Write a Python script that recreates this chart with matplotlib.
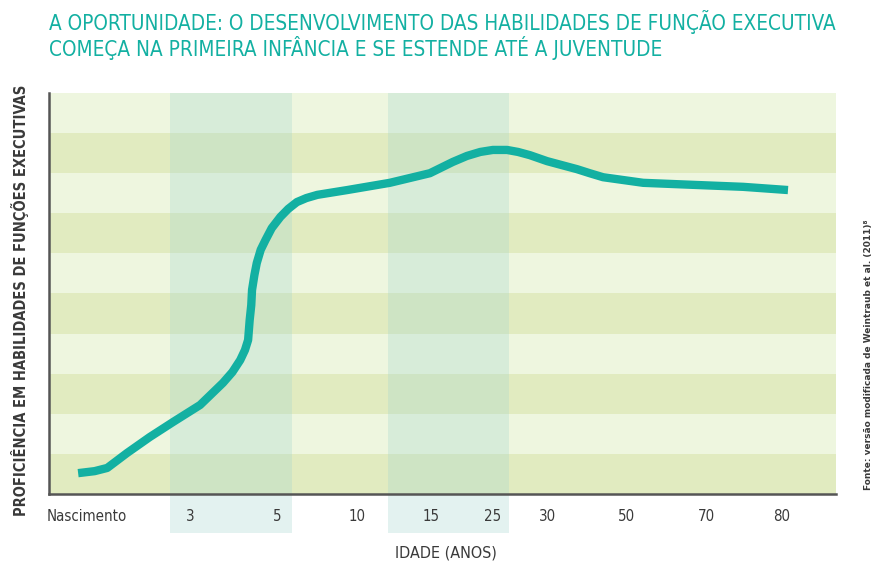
import matplotlib
matplotlib.use("Agg")
import matplotlib.pyplot as plt

# ---------------------------------------------------------------------
# DATA (x = position along the age axis, 0-100; y = proficiency, 0-100)
# ---------------------------------------------------------------------
tick_labels = ["Nascimento", "3", "5", "10", "15", "25", "30", "50", "70", "80"]
tick_pos = [4.8, 17.9, 29.0, 39.1, 48.5, 56.4, 63.4, 73.4, 83.6, 93.1]

curve_x = [3.7, 5.8, 7.4, 9.9, 12.8, 15.8, 19.2, 22.1, 23.3, 24.3, 24.9, 25.3,
           25.5, 25.7, 25.8, 26.1, 26.4, 26.9, 27.5, 28.3, 29.4, 30.4, 31.5,
           32.7, 34.1, 37.9, 43.3, 48.4, 51.3, 53.1, 54.8, 56.4, 58.2, 59.6,
           61.1, 63.3, 67.1, 68.7, 70.4, 75.5, 81.8, 88.2, 93.9]
curve_y = [5.2, 5.7, 6.5, 10.2, 14.2, 18.0, 22.2, 27.7, 30.4, 33.4, 35.9, 38.4,
           43.4, 47.1, 50.9, 54.6, 57.6, 60.9, 63.3, 66.3, 69.1, 71.1, 72.8,
           73.8, 74.6, 75.8, 77.6, 80.0, 82.8, 84.3, 85.3, 85.8, 85.8, 85.3,
           84.5, 83.0, 81.0, 80.0, 79.0, 77.6, 77.1, 76.6, 75.8]

# highlighted age windows (3-5 and 15-25)
bands = [(15.4, 30.9), (43.1, 58.5)]
n_stripes = 10

title_1 = "A OPORTUNIDADE: O DESENVOLVIMENTO DAS HABILIDADES DE FUNÇÃO EXECUTIVA"
title_2 = "COMEÇA NA PRIMEIRA INFÂNCIA E SE ESTENDE ATÉ A JUVENTUDE"
ylabel = "PROFICIÊNCIA EM HABILIDADES DE FUNÇÕES EXECUTIVAS"
xlabel = "IDADE (ANOS)"
source = "Fonte: versão modificada de Weintraub et al. (2011)⁸"

FONT = ["DejaVu Sans"]
TEAL = "#13b0a2"
DARK = "#3a3a3a"

# ---------------------------------------------------------------------
# PLOT
# ---------------------------------------------------------------------
fig = plt.figure(figsize=(8.76, 5.66), dpi=100)
ax = fig.add_axes([49 / 876, 1 - 494 / 566, 787 / 876, 401 / 566])

# horizontal stripes
step = 100 / n_stripes
for i in range(n_stripes):
    col = "#e1ebc0" if i % 2 == 0 else "#eef6df"
    ax.axhspan(i * step, (i + 1) * step, color=col, lw=0, zorder=0)

# vertical age bands, running down behind the tick labels
for x0, x1 in bands:
    ax.axvspan(x0, x1, ymin=-0.097, ymax=1, color="#a5d5ce", alpha=0.3,
               lw=0, zorder=1, clip_on=False)

ax.plot(curve_x, curve_y, color=TEAL, lw=6, solid_capstyle="butt",
        solid_joinstyle="round", zorder=3)

ax.set_xlim(0, 100)
ax.set_ylim(0, 100)
ax.set_yticks([])
ax.set_xticks(tick_pos)
ax.set_xticklabels(tick_labels, family=FONT, fontsize=10.8, color=DARK,
                   fontstretch="condensed")
ax.tick_params(axis="x", length=0, pad=11)

for s in ["top", "right"]:
    ax.spines[s].set_visible(False)
for s in ["left", "bottom"]:
    ax.spines[s].set_color("#555555")
    ax.spines[s].set_linewidth(1.8)

fig.text(49 / 876, 1 - 22 / 566, title_1, family=FONT, fontsize=14.9,
         fontstretch="condensed", color=TEAL, va="center", ha="left")
fig.text(49 / 876, 1 - 48 / 566, title_2, family=FONT, fontsize=14.9,
         fontstretch="condensed", color=TEAL, va="center", ha="left")
fig.text(20 / 876, 1 - 300 / 566, ylabel, family=FONT, fontsize=10.5,
         fontweight="bold", fontstretch="condensed", color=DARK, rotation=90,
         va="center", ha="center")
fig.text(446 / 876, 1 - 553 / 566, xlabel, family=FONT, fontsize=11.5,
         fontstretch="condensed", color=DARK, va="center", ha="center")
fig.text(868 / 876, 1 - 355 / 566, source, family=FONT, fontsize=6.5,
         fontweight="bold", color=DARK, rotation=90, va="center", ha="center")

fig.savefig("out.png", dpi=100)
